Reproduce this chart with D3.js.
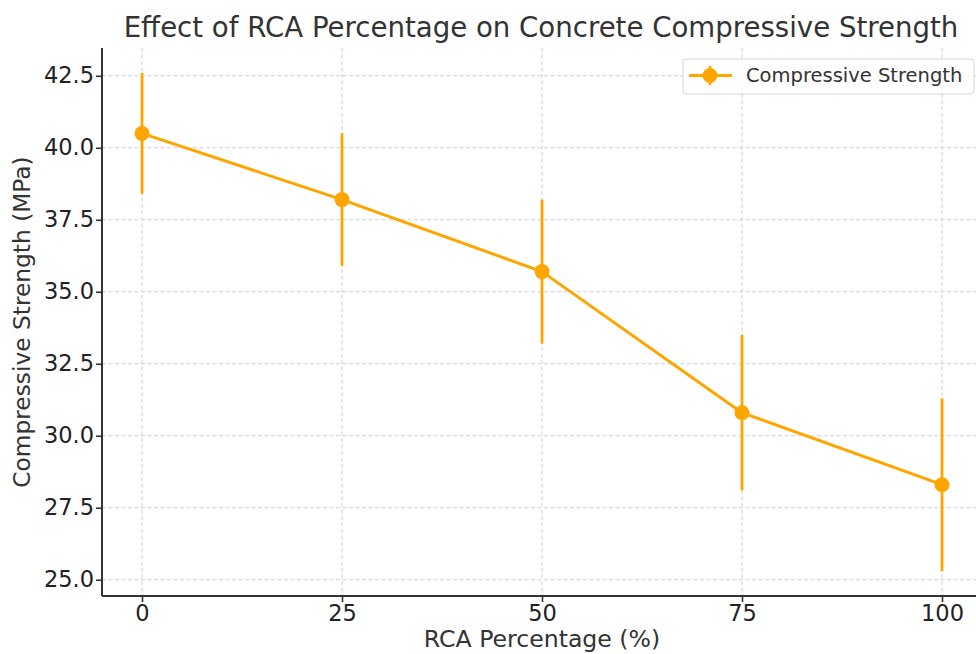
<!DOCTYPE html>
<html><head><meta charset="utf-8">
<script src="https://cdn.jsdelivr.net/npm/d3@7/dist/d3.min.js"></script>
<style>body{margin:0;background:#fff}svg{display:block}text{font-family:"DejaVu Sans",sans-serif}</style>
</head><body>
<svg id="c" width="976" height="654"></svg>
<script>
const rcaPercent = [0, 25, 50, 75, 100];
const strength = [40.5, 38.2, 35.7, 30.8, 28.3];
const strengthErr = [2.1, 2.3, 2.5, 2.7, 3.0];
const xTicks = [0, 25, 50, 75, 100];
const yTicks = [25.0, 27.5, 30.0, 32.5, 35.0, 37.5, 40.0, 42.5];
const title = "Effect of RCA Percentage on Concrete Compressive Strength";
const xLabel = "RCA Percentage (%)";
const yLabel = "Compressive Strength (MPa)";
const seriesName = "Compressive Strength";

const svg = d3.select("#c");
const L = 102, R = 982, T = 48, B = 596;
const color = "#FFA500", ink = "#333";
const lo = d3.min(strength.map((v,i)=>v-strengthErr[i])), hi = d3.max(strength.map((v,i)=>v+strengthErr[i]));
const ym = (hi-lo)*0.05;
const x = d3.scaleLinear().domain([-5, 105]).range([L, R]);
const y = d3.scaleLinear().domain([lo-ym, hi+ym]).range([B, T]);

// grid
const g = svg.append("g");
g.selectAll(".gx").data(xTicks).enter().append("line")
  .attr("x1", d=>x(d)).attr("x2", d=>x(d)).attr("y1", T).attr("y2", B)
  .attr("stroke", "#d0d0d0").attr("stroke-width", 1).attr("stroke-dasharray", "4,2.5");
g.selectAll(".gy").data(yTicks).enter().append("line")
  .attr("y1", d=>y(d)).attr("y2", d=>y(d)).attr("x1", L).attr("x2", R)
  .attr("stroke", "#d0d0d0").attr("stroke-width", 1).attr("stroke-dasharray", "4,2.5");

// axes
const xa = svg.append("g").attr("transform", `translate(0,${B})`)
  .call(d3.axisBottom(x).tickValues(xTicks).tickFormat(d3.format("d")).tickSize(6).tickPadding(3));
const ya = svg.append("g").attr("transform", `translate(${L},0)`)
  .call(d3.axisLeft(y).tickValues(yTicks).tickFormat(d3.format(".1f")).tickSize(6).tickPadding(2));
[xa, ya].forEach(a => {
  a.select(".domain").attr("stroke", ink).attr("stroke-width", 2);
  a.selectAll(".tick line").attr("stroke", ink).attr("stroke-width", 1.6);
  a.selectAll(".tick text").attr("fill", "#222").style("font-size", "22.5px").style("font-family", "DejaVu Sans");
});
xa.select(".domain").attr("d", `M${L},0H${R}`);
ya.select(".domain").attr("d", `M0,${B}V${T}`);

// error bars
svg.append("g").selectAll("line").data(rcaPercent).enter().append("line")
  .attr("x1", d=>x(d)).attr("x2", d=>x(d))
  .attr("y1", (d,i)=>y(strength[i]-strengthErr[i])).attr("y2", (d,i)=>y(strength[i]+strengthErr[i]))
  .attr("stroke", color).attr("stroke-width", 2.8);

// line
const pts = rcaPercent.map((d,i)=>[d, strength[i]]);
svg.append("path").datum(pts)
  .attr("d", d3.line().x(d=>x(d[0])).y(d=>y(d[1])))
  .attr("fill", "none").attr("stroke", color).attr("stroke-width", 3).attr("stroke-linejoin", "round");
svg.append("g").selectAll("circle").data(pts).enter().append("circle")
  .attr("cx", d=>x(d[0])).attr("cy", d=>y(d[1])).attr("r", 7.5).attr("fill", color);

// title & labels
svg.append("text").attr("x", 541).attr("y", 37).attr("text-anchor", "middle")
  .style("font-size", "27.6px").attr("fill", ink).text(title);
svg.append("text").attr("x", 542).attr("y", 647).attr("text-anchor", "middle")
  .style("font-size", "23.6px").attr("fill", ink).text(xLabel);
svg.append("text").attr("transform", `translate(30,${(T+B)/2}) rotate(-90)`).attr("text-anchor", "middle")
  .style("font-size", "23.3px").attr("fill", ink).text(yLabel);

// legend
const lg = svg.append("g");
lg.append("rect").attr("x", 683).attr("y", 59).attr("width", 291).attr("height", 35).attr("rx", 3)
  .attr("fill", "#fff").attr("fill-opacity", 0.8).attr("stroke", "#d8d8d8").attr("stroke-width", 1);
lg.append("line").attr("x1", 689).attr("x2", 732).attr("y1", 75.5).attr("y2", 75.5).attr("stroke", color).attr("stroke-width", 3);
lg.append("line").attr("x1", 710).attr("x2", 710).attr("y1", 66).attr("y2", 85).attr("stroke", color).attr("stroke-width", 2.8);
lg.append("circle").attr("cx", 710).attr("cy", 75.5).attr("r", 7.5).attr("fill", color);
lg.append("text").attr("x", 746).attr("y", 82).style("font-size", "19.5px").attr("fill", ink).text(seriesName);
</script>
</body></html>
